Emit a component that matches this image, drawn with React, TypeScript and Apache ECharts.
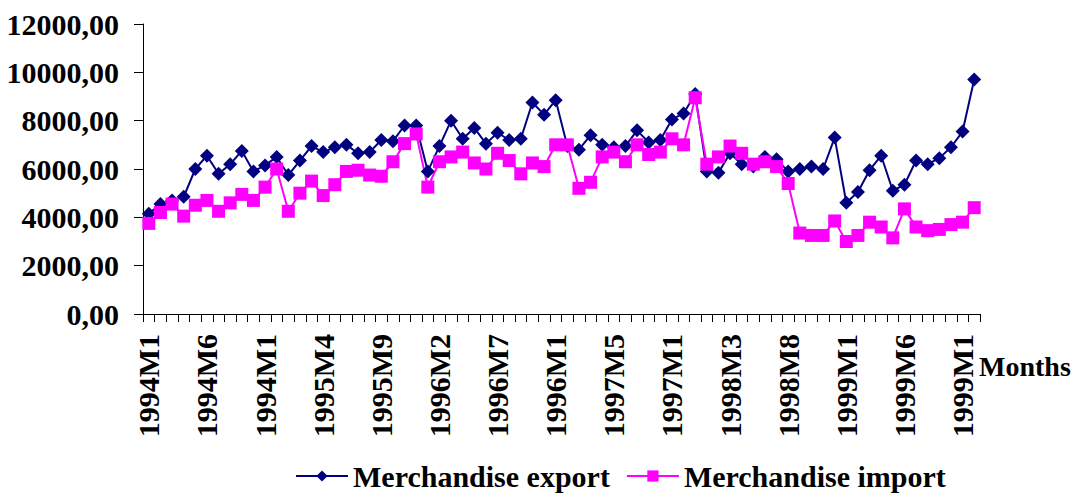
import React, { useEffect, useRef } from "react";
import * as echarts from "echarts";

const categories: string[] = [
  "1994M1", "1994M2", "1994M3", "1994M4", "1994M5", "1994M6", "1994M7", "1994M8", "1994M9", "1994M10", "1994M11", "1994M12",
  "1995M1", "1995M2", "1995M3", "1995M4", "1995M5", "1995M6", "1995M7", "1995M8", "1995M9", "1995M10", "1995M11", "1995M12",
  "1996M1", "1996M2", "1996M3", "1996M4", "1996M5", "1996M6", "1996M7", "1996M8", "1996M9", "1996M10", "1996M11", "1996M12",
  "1997M1", "1997M2", "1997M3", "1997M4", "1997M5", "1997M6", "1997M7", "1997M8", "1997M9", "1997M10", "1997M11", "1997M12",
  "1998M1", "1998M2", "1998M3", "1998M4", "1998M5", "1998M6", "1998M7", "1998M8", "1998M9", "1998M10", "1998M11", "1998M12",
  "1999M1", "1999M2", "1999M3", "1999M4", "1999M5", "1999M6", "1999M7", "1999M8", "1999M9", "1999M10", "1999M11", "1999M12",
];

const exportValues: number[] = [
  4150, 4550, 4700, 4850, 6000, 6550, 5800, 6200, 6750, 5900, 6150, 6500,
  5750, 6350, 6950, 6700, 6900, 7000, 6650, 6700, 7200, 7150, 7800, 7800,
  5900, 6950, 8000, 7250, 7700, 7050, 7500, 7200, 7250, 8750, 8250, 8850,
  6950, 6800, 7400, 7000, 6900, 6950, 7600, 7100, 7200, 8050, 8300, 9100,
  5900, 5850, 6650, 6200, 6100, 6500, 6400, 5900, 6000, 6100, 6000, 7300,
  4600, 5050, 5950, 6550, 5100, 5350, 6350, 6200, 6450, 6900, 7550, 9700,
];

const importValues: number[] = [
  3750, 4200, 4550, 4050, 4500, 4700, 4250, 4600, 4950, 4700, 5250, 6000,
  4250, 5000, 5500, 4900, 5350, 5900, 5950, 5750, 5700, 6300, 7050, 7450,
  5250, 6300, 6500, 6700, 6250, 6000, 6650, 6350, 5800, 6250, 6100, 7000,
  7000, 5200, 5450, 6500, 6700, 6300, 7000, 6600, 6700, 7250, 7000, 8950,
  6200, 6500, 6950, 6650, 6200, 6300, 6100, 5400, 3350, 3250, 3250, 3850,
  3000, 3250, 3800, 3600, 3150, 4350, 3600, 3450, 3500, 3700, 3800, 4400,
];

const seriesNames = ["Merchandise export", "Merchandise import"];
const xAxisTitle = "Months";

const FONT = "'Liberation Serif', 'Times New Roman', serif";

export default function App() {
  const ref = useRef<HTMLDivElement>(null);
  useEffect(() => {
    if (!ref.current) return;
    const chart = echarts.init(ref.current, undefined, { renderer: "svg" });
    chart.setOption({
      animation: false,
      backgroundColor: "#ffffff",
      grid: { left: 143, right: 101, top: 24, bottom: 184, containLabel: false },
      xAxis: {
        type: "category",
        data: categories,
        boundaryGap: true,
        axisLine: { show: true, lineStyle: { color: "#000", width: 1 } },
        axisTick: { show: true, interval: 0, length: 8, lineStyle: { color: "#000" } },
        axisLabel: {
          interval: 4,
          rotate: 90,
          margin: 20,
          color: "#000",
          fontFamily: FONT,
          fontWeight: "bold",
          fontSize: 30,
          formatter: (v: string) => v.slice(0, 6),
        },
        splitLine: { show: false },
      },
      yAxis: {
        type: "value",
        min: 0,
        max: 12000,
        interval: 2000,
        axisLine: { show: true, lineStyle: { color: "#000", width: 1 } },
        axisTick: { show: true, length: 9, lineStyle: { color: "#000" } },
        axisLabel: {
          margin: 24,
          color: "#000",
          fontFamily: FONT,
          fontWeight: "bold",
          fontSize: 30,
          formatter: (v: number) => v.toFixed(2).replace(".", ","),
        },
        splitLine: { show: false },
      },
      legend: {
        bottom: 2,
        left: 290,
        itemWidth: 52,
        itemHeight: 14,
        itemGap: 16,
        textStyle: { fontFamily: FONT, fontWeight: "bold", fontSize: 30, color: "#000" },
        data: seriesNames,
      },
      graphic: [
        {
          type: "text",
          left: 979,
          top: 352,
          style: { text: xAxisTitle, font: `bold 28px ${FONT}`, fill: "#000" },
        },
      ],
      series: [
        {
          name: seriesNames[0],
          type: "line",
          data: exportValues,
          symbol: "diamond",
          symbolSize: 14,
          showAllSymbol: true,
          lineStyle: { color: "#000080", width: 2 },
          itemStyle: { color: "#000080" },
        },
        {
          name: seriesNames[1],
          type: "line",
          data: importValues,
          symbol: "rect",
          symbolSize: 13,
          showAllSymbol: true,
          lineStyle: { color: "#FF00FF", width: 2 },
          itemStyle: { color: "#FF00FF" },
        },
      ],
    });
    return () => chart.dispose();
  }, []);
  return (
    <div
      ref={ref}
      style={{ position: "fixed", left: 0, top: 0, width: 1081, height: 498 }}
    />
  );
}
